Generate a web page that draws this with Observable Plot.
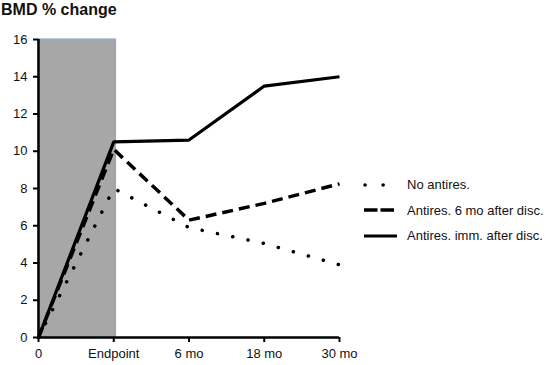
<!DOCTYPE html>
<html><head><meta charset="utf-8">
<script src="https://cdn.jsdelivr.net/npm/d3@7"></script>
<script src="https://cdn.jsdelivr.net/npm/@observablehq/plot@0.6"></script>
<style>
body{margin:0;background:#fff;font-family:"Liberation Sans",Arial,sans-serif;}
#wrap{position:relative;width:548px;height:365px;}
#title{position:absolute;left:1px;top:1px;font-size:16px;font-weight:bold;color:#111;}
#chart{position:absolute;left:0;top:24px;}
#legend{position:absolute;left:359px;top:172px;font-size:13px;color:#111;}
.item{display:flex;align-items:center;height:25.5px;}
.item svg{margin-right:8px;}
</style></head><body>
<div id="wrap"><div id="title">BMD % change</div><div id="chart"></div><div id="legend"></div></div>
<script>
const categories = ["0", "Endpoint", "6 mo", "18 mo", "30 mo"];
const seriesNames = ["No antires.", "Antires. 6 mo after disc.", "Antires. imm. after disc."];
const noAntires = [0, 8.0, 5.9, 5.05, 3.9];
const antires6mo = [0, 10.1, 6.3, 7.2, 8.25];
const antiresImm = [0, 10.5, 10.6, 13.5, 14.0];
const yTicks = [0, 2, 4, 6, 8, 10, 12, 14, 16];
const shadedPeriod = {from: "0", to: "Endpoint", top: 16};

const styles = [
  {dash: "0.1,15.5", width: 3.5, cap: "round"},
  {dash: "11,6", width: 3.5, cap: "butt"},
  {dash: null, width: 3.2, cap: "butt"}
];
const seriesVals = [noAntires, antires6mo, antiresImm];
const rows = seriesVals.flatMap((vals, s) => vals.map((v, i) => ({s, i, v})));

const idx = c => categories.indexOf(c);
const marks = [
  Plot.rect([shadedPeriod], {x1: d => idx(d.from), x2: d => idx(d.to) + 0.03, y1: 0, y2: d => d.top, fill: "#a7a7a7", stroke: "#8eaad6", strokeWidth: 1.2}),
  Plot.ruleY([0], {stroke: "#000", strokeWidth: 2.5}),
  Plot.ruleX([0], {y1: 0, y2: 16, stroke: "#000", strokeWidth: 2.5}),
  Plot.axisY({ticks: yTicks, tickSize: 5, tickPadding: 6, fontSize: 13, tickFormat: d => d, label: null, stroke: "#000", strokeWidth: 2}),
  Plot.axisX({ticks: categories.map((c, i) => i), tickSize: 5, tickPadding: 6, fontSize: 13, tickFormat: i => categories[i], label: null, stroke: "#000", strokeWidth: 2}),
];
styles.forEach((st, s) => {
  marks.push(Plot.line(rows.filter(r => r.s === s), {x: "i", y: "v", stroke: "#000", strokeWidth: st.width, strokeDasharray: st.dash, strokeLinecap: st.cap, strokeLinejoin: "miter"}));
});

const plot = Plot.plot({
  width: 548, height: 341,
  marginLeft: 38, marginRight: 209, marginTop: 15, marginBottom: 28,
  x: {domain: [0, categories.length - 1], axis: null},
  y: {domain: [0, 16], axis: null},
  style: {fontFamily: "Liberation Sans, Arial, sans-serif", color: "#111", overflow: "visible"},
  marks
});
document.getElementById("chart").appendChild(plot);

const leg = document.getElementById("legend");
seriesNames.forEach((name, s) => {
  const st = styles[s];
  const div = document.createElement("div");
  div.className = "item";
  div.innerHTML = `<svg width="40" height="10"><line x1="${s===0?6:5}" x2="${s===0?25:38}" y1="5" y2="5" stroke="#000" stroke-width="${st.width}" ${st.dash ? `stroke-dasharray="${s===0?'0.1,18':'13.5,3'}"` : ""} stroke-linecap="${st.cap}"/></svg><span>${name}</span>`;
  leg.appendChild(div);
});
</script></body></html>
